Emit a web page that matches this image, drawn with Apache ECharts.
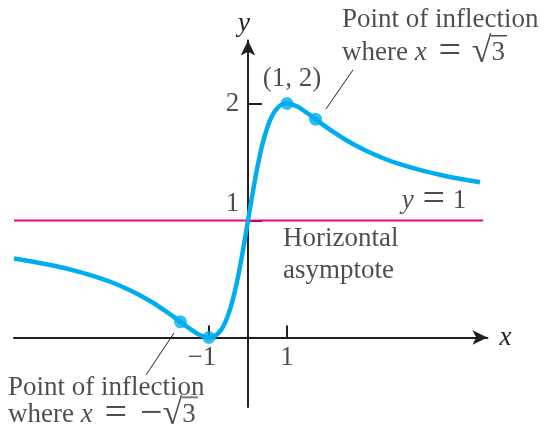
<!DOCTYPE html>
<html>
<head>
<meta charset="utf-8">
<script src="https://cdn.jsdelivr.net/npm/echarts@6/dist/echarts.min.js"></script>
<style>
  html, body { margin: 0; padding: 0; background: #fff; }
  #chart { width: 544px; height: 432px; }
</style>
</head>
<body>
<div id="chart"></div>
<script>
// curve: min at (-1, 0), max at (1, 2), asymptote y = 1
const curveX = [-6, -5.5, -5, -4.5, -4, -3.5, -3, -2.5, -2, -1.732, -1.5, -1.25, -1, -0.875, -0.75, -0.625, -0.5, -0.375, -0.25, -0.125,
  0, 0.125, 0.25, 0.375, 0.5, 0.625, 0.75, 0.875, 1, 1.25, 1.5, 1.732, 2, 2.5, 3, 3.5, 4, 4.5, 5, 5.5, 5.95]
const curveY = [0.676, 0.648, 0.615, 0.576, 0.529, 0.472, 0.4, 0.31, 0.2, 0.134, 0.077, 0.024, 0, 0.009, 0.04, 0.101, 0.2, 0.342, 0.529, 0.754,
  1, 1.246, 1.471, 1.658, 1.8, 1.899, 1.96, 1.991, 2, 1.976, 1.923, 1.866, 1.8, 1.69, 1.6, 1.528, 1.471, 1.424, 1.385, 1.352, 1.327]

const keyX = [-1.732, -1, 1, 1.732]
const keyY = [0.134, 0, 2, 1.866]

const asymptoteY = 1
const asymptoteX = [-6, 6.03]

const xTicks = [-1, 1]
const yTicks = [1, 2]

// tick labels sit off the ticks a little, as in the picture
const tickText = ['\u22121', '1', '1', '2']
const tickX = [-1.18, 1.0, -0.397, -0.397]
const tickY = [-0.175, -0.175, 1.141, 2]

// leader lines from the inflection points to their notes
const leaderRight = [[2.0, 1.953], [2.69, 2.286]]
const leaderLeft = [[-1.897, 0.038], [-2.615, -0.32]]

const noteText = ['(1, 2)', '{t|y} {eq2|=} 1', 'Horizontal', 'asymptote',
  'Point of inflection', 'where {t|x} {eq|=} {rad|\u221a}{ov|3}',
  'Point of inflection', 'where {t|x} {eq|=}{mi|\u2212}{rad|\u221a}{ov|3}']
const noteX = [1.13, 4.77, 0.897, 0.897, 2.41, 2.41, -6.154, -6.154]
const noteY = [2.209, 1.167, 0.842, 0.568, 2.714, 2.432, -0.43, -0.658]
const noteAlign = ['center', 'center', 'left', 'left', 'left', 'left', 'left', 'left']

const ink = '#231f20'
const serif = 'Liberation Serif'
const fs = 27

// pixel layout: origin and units
const ox = 248, oy = 337.5, ux = 39, uy = 117
const xMin = -6, xMax = 6.14, yMin = -0.594, yMax = 2.538

// bar image used as the vinculum over the 3
const bar = document.createElement('canvas')
bar.width = 16; bar.height = 40
const bctx = bar.getContext('2d')
bctx.fillStyle = ink
bctx.fillRect(0, 2, 16, 1.5)

const chart = echarts.init(document.getElementById('chart'), null, { renderer: 'canvas' })

const txt = { fontFamily: serif, fontSize: fs, color: ink }
const rich = {
  t: Object.assign({}, txt, { fontStyle: 'italic' }),
  eq: Object.assign({}, txt, { fontSize: 40, padding: [0, 4, 0, 5] }),
  eq2: Object.assign({}, txt, { fontSize: 40, padding: [0, 1, 0, 2] }),
  mi: Object.assign({}, txt, { fontSize: 40, padding: [0, 0, 0, 9] }),
  rad: Object.assign({}, txt, { fontSize: 36 }),
  ov: Object.assign({}, txt, { height: 40, backgroundColor: { image: bar } })
}

const axisBase = {
  type: 'value',
  nameLocation: 'end',
  axisLine: { onZero: true, symbol: ['none', 'arrow'], symbolSize: [11, 15], lineStyle: { color: ink, width: 2 } },
  axisLabel: { show: false },
  splitLine: { show: false }
}

const option = {
  animation: false,
  backgroundColor: '#fff',
  grid: {
    left: ox + xMin * ux,
    width: (xMax - xMin) * ux,
    top: oy - yMax * uy,
    height: (yMax - yMin) * uy,
    outerBoundsMode: 'none',
    containLabel: false
  },
  xAxis: Object.assign({}, axisBase, {
    min: xMin, max: xMax,
    name: 'x', nameGap: 12,
    nameTextStyle: Object.assign({}, txt, { fontStyle: 'italic', verticalAlign: 'middle', padding: [0, 0, 4, 0] }),
    axisTick: { show: true, inside: true, length: 12, customValues: xTicks, lineStyle: { color: ink, width: 2 } }
  }),
  yAxis: Object.assign({}, axisBase, {
    min: yMin, max: yMax,
    name: 'y', nameGap: 3,
    nameTextStyle: Object.assign({}, txt, { fontStyle: 'italic', align: 'center', padding: [0, 8, 0, 0] }),
    axisTick: { show: true, inside: true, length: 14, customValues: yTicks, lineStyle: { color: ink, width: 2 } }
  }),
  series: [
    {
      type: 'line', name: 'asymptote',
      data: asymptoteX.map(x => [x, asymptoteY]),
      symbol: 'none', lineStyle: { color: '#ec008c', width: 2 }, z: 1
    },
    {
      type: 'line', name: 'curve',
      data: curveX.map((x, i) => [x, curveY[i]]),
      smooth: 0.3, symbol: 'none', clip: false,
      lineStyle: { color: '#00aeef', width: 4.5 }, z: 3
    },
    {
      type: 'scatter', name: 'points',
      data: keyX.map((x, i) => [x, keyY[i]]),
      symbolSize: 13, itemStyle: { color: '#00aeef' }, z: 4
    },
    {
      type: 'line', name: 'leaderR', data: leaderRight, symbol: 'none', clip: false,
      lineStyle: { color: ink, width: 1 }, z: 2
    },
    {
      type: 'line', name: 'leaderL', data: leaderLeft, symbol: 'none', clip: false,
      lineStyle: { color: ink, width: 1 }, z: 2
    },
    {
      type: 'scatter', name: 'notes', symbolSize: 0, clip: false, silent: true,
      data: noteText.map((t, i) => ({
        value: [noteX[i], noteY[i]],
        label: { align: noteAlign[i], formatter: t }
      })).concat(tickText.map((t, i) => ({
        value: [tickX[i], tickY[i]],
        label: { align: 'center', formatter: t }
      }))),
      label: Object.assign({ show: true, position: 'inside', verticalAlign: 'middle', rich: rich }, txt),
      z: 5
    }
  ]
}

chart.setOption(option)
</script>
</body>
</html>
